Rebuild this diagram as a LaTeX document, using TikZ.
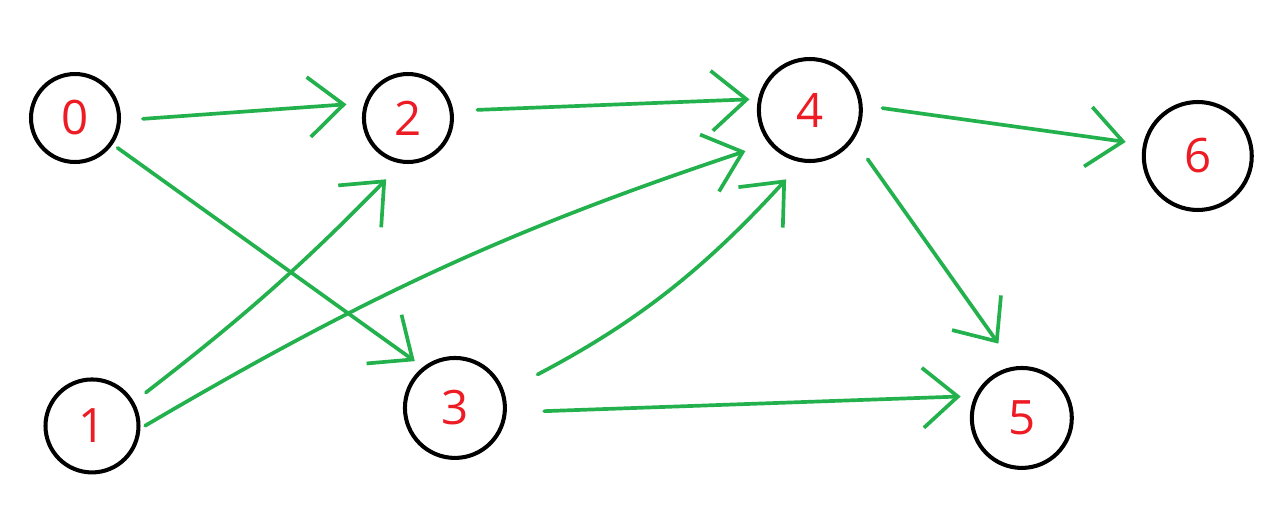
\documentclass[tikz,border=0pt]{standalone}
\usepackage{fontspec}
\setmainfont{Open Sans}
\usepackage{tikz}
\usetikzlibrary{arrows.meta}
\usetikzlibrary{automata,positioning}
\definecolor{paintgreen}{RGB}{34,177,76}
\definecolor{paintred}{RGB}{237,28,36}

\begin{document}
\begin{tikzpicture}[x=0.02cm,y=-0.02cm,on grid,auto,
    every state/.style={draw=black,line width=2.3pt,inner sep=0pt,text=paintred,
      font=\fontsize{27}{32}\selectfont},
    >={Straight Barb[length=0.7cm,width=1.2cm]},
    every edge/.style={draw=paintgreen,line width=2.1pt,line cap=round,line join=round}]
	     \useasboundingbox (0,0) rectangle (1287,504);
	     \node[state, minimum size=1.76cm] (q0) at (75,118) {0};
	     \node[state, minimum size=1.76cm] (q2) [right=6.66cm of q0] {2};
	     \node[state, minimum size=2.04cm] (q4) [above right=0.16cm and 8.04cm of q2] {4};
	     \node[state, minimum size=2.16cm] (q6) [below right=0.92cm and 7.76cm of q4] {6};
	     \node[state, minimum size=1.86cm] (q1) [below right=6.16cm and 0.34cm of q0] {1};
	     \node[state, minimum size=2cm] (q3) [above right=0.36cm and 7.26cm of q1] {3};
	     \node[state, minimum size=2cm] (q5) [below right=0.2cm and 11.34cm of q3] {5};
	     
	     \path[->]
	       (q0.357) edge [shorten <=0.44cm, shorten >=0.36cm] (q2.161)
	       (q0.325) edge [shorten <=0.12cm, shorten >=0.2cm] (q3.128)
	       (q1.30) edge [bend right=4, shorten <=0.3cm, shorten >=0.44cm] (q2.262)
	       (q1.357) edge [bend left=6, shorten <=0.11cm, shorten >=0.49cm] (q4.219)
	       (q2.9) edge [shorten <=0.48cm, shorten >=0.17cm] (q4.168)
	       (q3.18) edge [bend right=10, shorten <=0.75cm, shorten >=0.46cm] (q4.261)
	       (q3.355) edge [shorten <=0.75cm, shorten >=0.28cm] (q5.155)
	       (q4.5) edge [shorten <=0.4cm, shorten >=0.35cm] (q6.168)
	       (q4.326) edge [shorten <=0.48cm, shorten >=0.56cm] (q5.98)
	     ;
\end{tikzpicture}
\end{document}
